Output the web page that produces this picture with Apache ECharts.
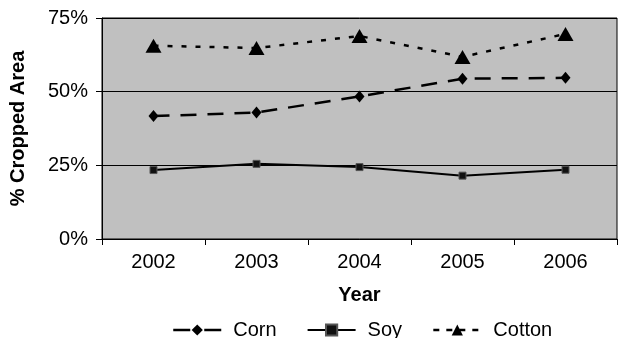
<!DOCTYPE html>
<html><head><meta charset="utf-8">
<script src="https://cdn.jsdelivr.net/npm/echarts@6/dist/echarts.min.js"></script>
<style>html,body{margin:0;padding:0;background:#fff}#c{width:619px;height:338px}</style>
</head><body><div id="c"></div>
<script>
const years = ['2002','2003','2004','2005','2006'];
const corn = [41.7, 42.9, 48.4, 54.4, 54.7];
const soy = [23.4, 25.5, 24.4, 21.5, 23.5];
const cotton = [65.6, 64.8, 68.9, 61.8, 69.6];
const yTicks = [0, 25, 50, 75];

const chart = echarts.init(document.getElementById('c'), null, {renderer:'canvas'});
const font = 'Liberation Sans, Arial, sans-serif';
chart.setOption({
  animation: false,
  textStyle: {fontFamily: font},
  grid: {left: 102, right: 2, top: 18, bottom: 99, show: true, backgroundColor: '#c0c0c0', borderColor: '#000', borderWidth: 1},
  legend: {
    top: 315, left: 167, itemWidth: 48, itemHeight: 14, itemGap: 30,
    textStyle: {fontSize: 20, color: '#000', fontFamily: font, padding: [0,0,0,7]},
    data: [
      {name: 'Corn', lineStyle: {type: [17, 14], width: 2.5}},
      {name: 'Soy', lineStyle: {type: 'solid', width: 2}},
      {name: 'Cotton', lineStyle: {type: [6, 7], width: 2.5}}
    ]
  },
  xAxis: {
    type: 'category', data: years, boundaryGap: true,
    axisLine: {lineStyle: {color: '#000', width: 1}},
    axisTick: {show: true, length: 6, lineStyle: {color: '#000'}},
    axisLabel: {fontSize: 20, color: '#000', margin: 13, fontFamily: font},
    name: 'Year', nameLocation: 'middle', nameGap: 46,
    nameTextStyle: {fontSize: 20, fontWeight: 'bold', color: '#000', fontFamily: font}
  },
  yAxis: {
    type: 'value', min: 0, max: 75, interval: 25,
    axisLine: {show: true, lineStyle: {color: '#000'}},
    axisTick: {show: true, length: 6, lineStyle: {color: '#000'}},
    axisLabel: {fontSize: 20, color: '#000', margin: 14, fontFamily: font, formatter: v => yTicks.includes(v) ? v + '%' : ''},
    splitLine: {show: true, lineStyle: {color: '#000', width: 1}},
    name: '% Cropped Area', nameLocation: 'middle', nameGap: 74,
    nameTextStyle: {fontSize: 20, fontWeight: 'bold', color: '#000', fontFamily: font}
  },
  series: [
    {name: 'Corn', type: 'line', data: corn, symbol: 'diamond', symbolSize: [10, 12],
     itemStyle: {color: '#000'}, lineStyle: {color: '#000', width: 2.5, type: [16, 11]}},
    {name: 'Soy', type: 'line', data: soy, symbol: 'rect', symbolSize: 7,
     itemStyle: {color: '#111', borderColor: '#555', borderWidth: 1}, lineStyle: {color: '#000', width: 2, type: 'solid'}},
    {name: 'Cotton', type: 'line', data: cotton, symbol: 'triangle', symbolSize: [16, 14],
     itemStyle: {color: '#000'}, lineStyle: {color: '#000', width: 2.5, type: [5, 9]}}
  ]
});
</script></body></html>
